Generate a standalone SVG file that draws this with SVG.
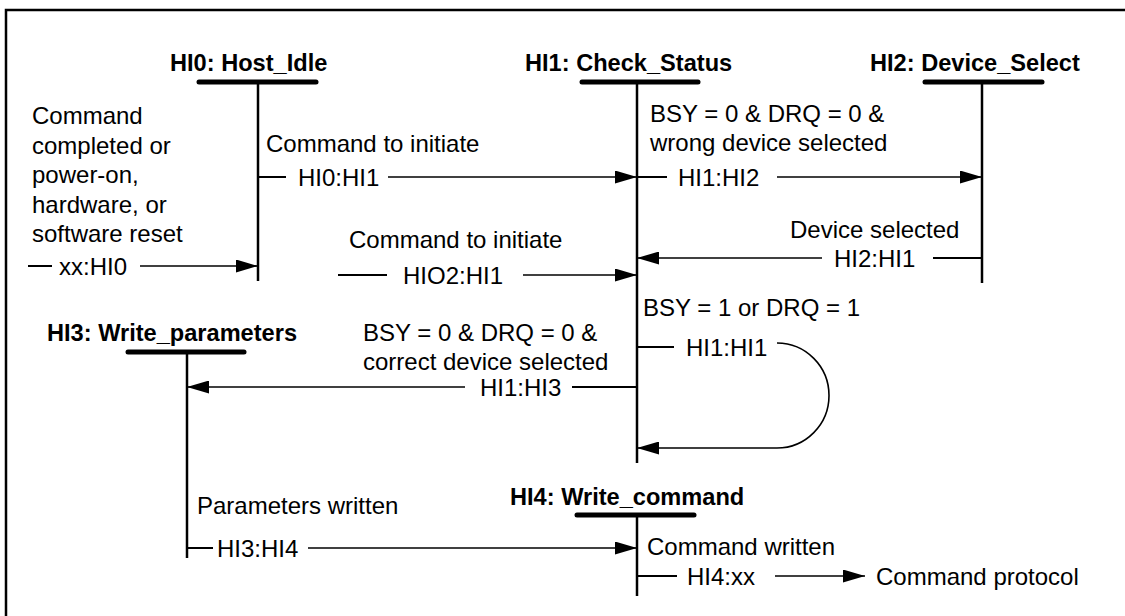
<svg xmlns="http://www.w3.org/2000/svg" width="1125" height="616" viewBox="0 0 1125 616">
<style>
text{font-family:"Liberation Sans",Arial,sans-serif;font-size:24px;fill:#000}
.t{font-weight:bold;font-size:23.6px}
.bar{stroke:#000;stroke-width:5;stroke-linecap:round}
.st{stroke:#000;stroke-width:2.5;fill:none}
.c{stroke:#000;stroke-width:1.6;fill:none}
.d{stroke:#000;stroke-width:2;fill:none}
</style>
<defs>
<marker id="ah" markerWidth="22" markerHeight="13" refX="22" refY="6.5" orient="auto" markerUnits="userSpaceOnUse">
<path d="M0,0 L22,6.5 L0,13 z" fill="#000"/>
</marker>
</defs>
<rect width="1125" height="616" fill="#fff"/>
<path d="M6,616 V10 H1125" stroke="#000" stroke-width="2.5" fill="none"/>

<g id="HI0">
<text class="t" x="170" y="71">HI0: Host_Idle</text>
<line class="bar" x1="199" y1="82" x2="316" y2="82"/>
<line class="st" x1="258" y1="82" x2="258" y2="281"/>
</g>
<g id="HI1">
<text class="t" x="525" y="71">HI1: Check_Status</text>
<line class="bar" x1="582" y1="82" x2="698" y2="82"/>
<line class="st" x1="637" y1="82" x2="637" y2="463"/>
</g>
<g id="HI2">
<text class="t" x="870" y="71">HI2: Device_Select</text>
<line class="bar" x1="925" y1="82" x2="1042" y2="82"/>
<line class="st" x1="982" y1="82" x2="982" y2="283"/>
</g>
<g id="HI3">
<text class="t" x="47" y="341">HI3: Write_parameters</text>
<line class="bar" x1="128" y1="352" x2="244" y2="352"/>
<line class="st" x1="187" y1="352" x2="187" y2="558"/>
</g>
<g id="HI4">
<text class="t" x="510" y="505">HI4: Write_command</text>
<line class="bar" x1="577" y1="515" x2="694" y2="515"/>
<line class="st" x1="637" y1="515" x2="637" y2="596"/>
</g>

<g id="connectors">
<!-- xx:HI0 -->
<text x="32" y="124">Command</text>
<text x="32" y="153.5">completed or</text>
<text x="32" y="183">power-on,</text>
<text x="32" y="212.5">hardware, or</text>
<text x="32" y="242">software reset</text>
<line class="d" x1="28" y1="266" x2="52" y2="266"/>
<text x="59" y="274.5">xx:HI0</text>
<line class="c" x1="140" y1="266" x2="258" y2="266" marker-end="url(#ah)"/>

<!-- HI0:HI1 -->
<text x="266" y="152">Command to initiate</text>
<line class="d" x1="258" y1="177" x2="286" y2="177"/>
<text x="298" y="185.5">HI0:HI1</text>
<line class="c" x1="388" y1="177" x2="637" y2="177" marker-end="url(#ah)"/>

<!-- HIO2:HI1 -->
<text x="349" y="248">Command to initiate</text>
<line class="d" x1="338" y1="275" x2="387" y2="275"/>
<text x="403" y="283.5">HIO2:HI1</text>
<line class="c" x1="523" y1="275" x2="637" y2="275" marker-end="url(#ah)"/>

<!-- HI1:HI2 -->
<text x="650" y="122">BSY = 0 &amp; DRQ = 0 &amp;</text>
<text x="650" y="151">wrong device selected</text>
<line class="d" x1="637" y1="177" x2="667" y2="177"/>
<text x="678" y="185.5">HI1:HI2</text>
<line class="c" x1="777" y1="177" x2="982" y2="177" marker-end="url(#ah)"/>

<!-- HI2:HI1 -->
<text x="790" y="238">Device selected</text>
<line class="d" x1="982" y1="258" x2="933" y2="258"/>
<text x="834" y="266.5">HI2:HI1</text>
<line class="c" x1="822" y1="258" x2="637" y2="258" marker-end="url(#ah)"/>

<!-- HI1:HI1 -->
<text x="643" y="316">BSY = 1 or DRQ = 1</text>
<line class="d" x1="637" y1="347" x2="674" y2="347"/>
<text x="686" y="355.5">HI1:HI1</text>
<path class="c" d="M777,343 A52,52.5 0 0 1 777,448 L637,448" marker-end="url(#ah)"/>

<!-- HI1:HI3 -->
<text x="363" y="341">BSY = 0 &amp; DRQ = 0 &amp;</text>
<text x="363" y="370">correct device selected</text>
<line class="d" x1="637" y1="387" x2="572" y2="387"/>
<text x="480" y="395.5">HI1:HI3</text>
<line class="c" x1="465" y1="387" x2="187" y2="387" marker-end="url(#ah)"/>

<!-- HI3:HI4 -->
<text x="197" y="514">Parameters written</text>
<line class="d" x1="187" y1="548" x2="213" y2="548"/>
<text x="217" y="556.5">HI3:HI4</text>
<line class="c" x1="308" y1="548" x2="637" y2="548" marker-end="url(#ah)"/>

<!-- HI4:xx -->
<text x="647" y="555">Command written</text>
<line class="d" x1="637" y1="576" x2="677" y2="576"/>
<text x="687" y="584.5">HI4:xx</text>
<line class="c" x1="775" y1="576" x2="865" y2="576" marker-end="url(#ah)"/>
<text x="876" y="584.5">Command protocol</text>
</g>
</svg>
